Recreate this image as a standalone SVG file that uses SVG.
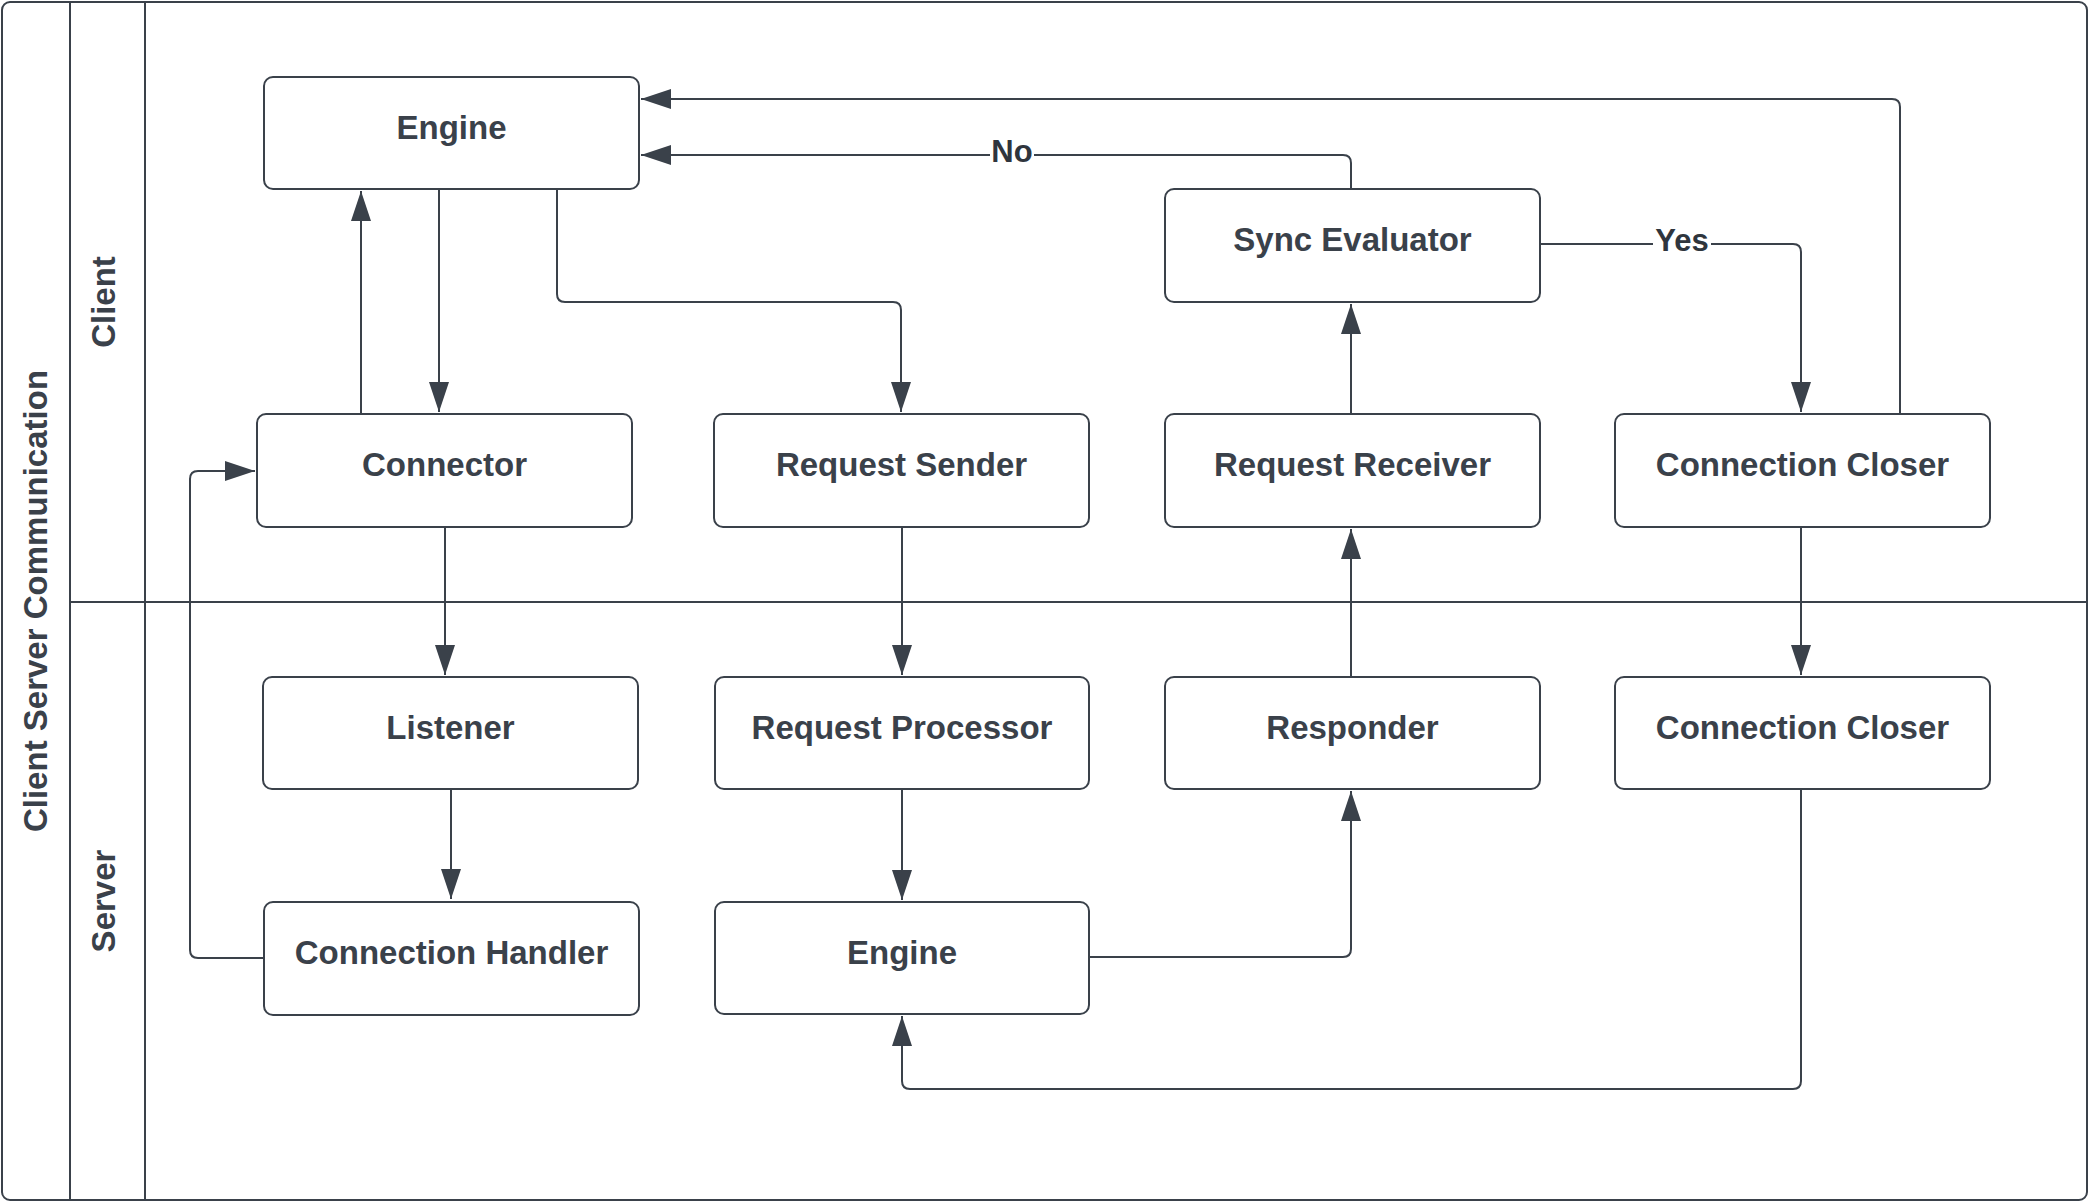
<svg xmlns="http://www.w3.org/2000/svg" width="2089" height="1202" viewBox="0 0 2089 1202">
<defs>
<style>
.frame{fill:#ffffff;stroke:#3a414a;stroke-width:2}
.div{stroke:#3a414a;stroke-width:2;fill:none}
.node rect{fill:#ffffff;stroke:#3a414a;stroke-width:2}
.node text{font-family:"Liberation Sans",Arial,sans-serif;font-weight:bold;font-size:33px;fill:#3a414a;text-anchor:middle}
.lane{font-family:"Liberation Sans",Arial,sans-serif;font-weight:bold;font-size:33px;fill:#3a414a;text-anchor:middle}
.edge{fill:none;stroke:#3a414a;stroke-width:2;stroke-linejoin:round;marker-end:url(#arrow)}
.lbl{font-family:"Liberation Sans",Arial,sans-serif;font-weight:bold;font-size:31px;fill:#2f353d;text-anchor:middle}
.lblbg{fill:#ffffff}
</style>
<marker id="arrow" markerUnits="userSpaceOnUse" markerWidth="30" markerHeight="20" refX="30" refY="10" orient="auto">
<path d="M0,0 L30,10 L0,20 z" fill="#3a414a"/>
</marker>
</defs>
<rect x="0" y="0" width="2089" height="1202" fill="#ffffff"/>
<g id="pool">
<rect class="frame" x="2" y="2" width="2085" height="1198" rx="8"/>
<line class="div" x1="70" y1="2" x2="70" y2="1200"/>
<line class="div" x1="145" y1="2" x2="145" y2="1200"/>
<line class="div" x1="70" y1="602" x2="2087" y2="602"/>
<text class="lane" transform="translate(47,601) rotate(-90)">Client Server Communication</text>
<text class="lane" transform="translate(115,302) rotate(-90)">Client</text>
<text class="lane" transform="translate(115,901) rotate(-90)">Server</text>
</g>
<g id="connectors">
<path class="edge" d="M361,414 L361,191"/>
<path class="edge" d="M439,189 L439,412"/>
<path class="edge" d="M557,189 L557,294 Q557,302 565,302 L893,302 Q901,302 901,310 L901,412"/>
<path class="edge" d="M445,527 L445,675"/>
<path class="edge" d="M451,789 L451,899"/>
<path class="edge" d="M264,958 L198,958 Q190,958 190,950 L190,479 Q190,471 198,471 L255,471"/>
<path class="edge" d="M902,527 L902,675"/>
<path class="edge" d="M902,789 L902,900"/>
<path class="edge" d="M1090,957 L1343,957 Q1351,957 1351,949 L1351,791"/>
<path class="edge" d="M1351,677 L1351,529"/>
<path class="edge" d="M1351,414 L1351,304"/>
<path class="edge" d="M1351,189 L1351,163 Q1351,155 1343,155 L641,155"/>
<path class="edge" d="M1540,244 L1793,244 Q1801,244 1801,252 L1801,412"/>
<path class="edge" d="M1900,414 L1900,107 Q1900,99 1892,99 L641,99"/>
<path class="edge" d="M1801,527 L1801,675"/>
<path class="edge" d="M1801,789 L1801,1081 Q1801,1089 1793,1089 L910,1089 Q902,1089 902,1081 L902,1016"/>
<rect class="lblbg" x="990" y="138" width="44" height="30"/>
<text class="lbl" x="1012" y="162">No</text>
<rect class="lblbg" x="1653" y="227" width="58" height="30"/>
<text class="lbl" x="1682" y="251">Yes</text>
</g>
<g id="engine-client" class="node">
<rect x="264" y="77" width="375" height="112" rx="9"/>
<text x="451.5" y="138.5">Engine</text>
</g>
<g id="connector" class="node">
<rect x="257" y="414" width="375" height="113" rx="9"/>
<text x="444.5" y="476">Connector</text>
</g>
<g id="request-sender" class="node">
<rect x="714" y="414" width="375" height="113" rx="9"/>
<text x="901.5" y="476">Request Sender</text>
</g>
<g id="sync-evaluator" class="node">
<rect x="1165" y="189" width="375" height="113" rx="9"/>
<text x="1352.5" y="251">Sync Evaluator</text>
</g>
<g id="request-receiver" class="node">
<rect x="1165" y="414" width="375" height="113" rx="9"/>
<text x="1352.5" y="476">Request Receiver</text>
</g>
<g id="connection-closer-client" class="node">
<rect x="1615" y="414" width="375" height="113" rx="9"/>
<text x="1802.5" y="476">Connection Closer</text>
</g>
<g id="listener" class="node">
<rect x="263" y="677" width="375" height="112" rx="9"/>
<text x="450.5" y="738.5">Listener</text>
</g>
<g id="request-processor" class="node">
<rect x="715" y="677" width="374" height="112" rx="9"/>
<text x="902" y="738.5">Request Processor</text>
</g>
<g id="responder" class="node">
<rect x="1165" y="677" width="375" height="112" rx="9"/>
<text x="1352.5" y="738.5">Responder</text>
</g>
<g id="connection-closer-server" class="node">
<rect x="1615" y="677" width="375" height="112" rx="9"/>
<text x="1802.5" y="738.5">Connection Closer</text>
</g>
<g id="connection-handler" class="node">
<rect x="264" y="902" width="375" height="113" rx="9"/>
<text x="451.5" y="964">Connection Handler</text>
</g>
<g id="engine-server" class="node">
<rect x="715" y="902" width="374" height="112" rx="9"/>
<text x="902" y="964">Engine</text>
</g>
</svg>
